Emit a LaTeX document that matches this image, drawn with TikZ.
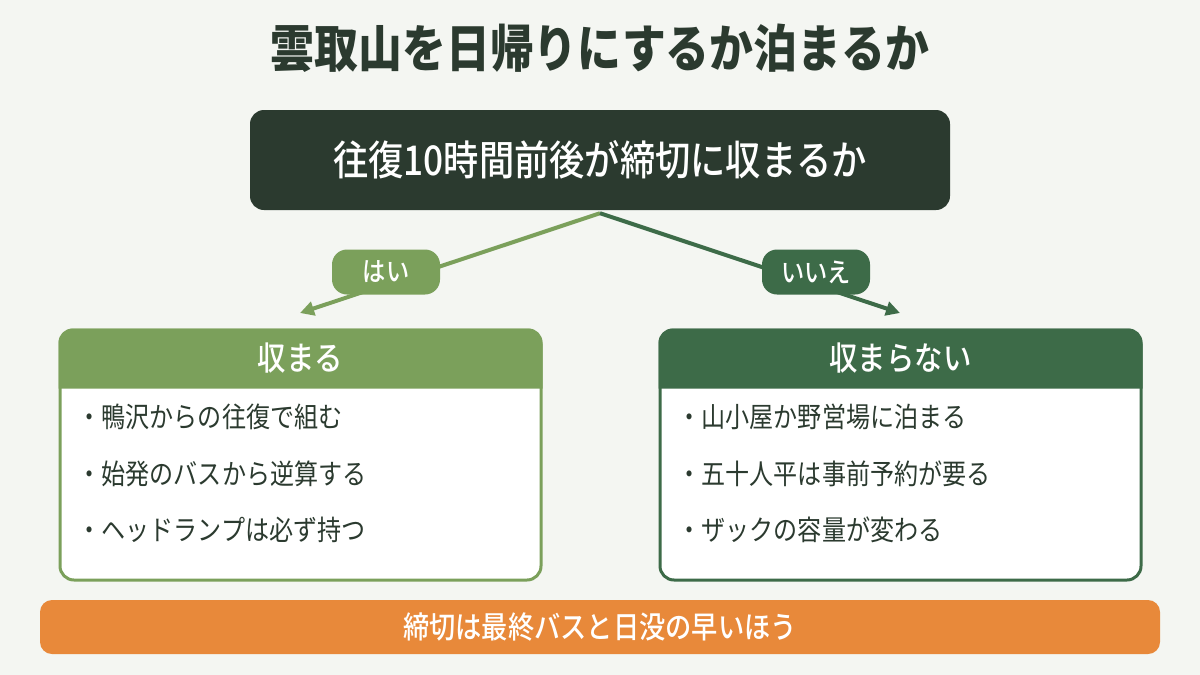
\documentclass[tikz,border=0pt]{standalone}
\usepackage{fontspec}
\setmainfont{Noto Sans CJK JP}[FakeStretch=0.86]
\newfontfamily\medfont{Noto Sans CJK JP Medium}[FakeStretch=0.86]
\usetikzlibrary{arrows.meta}

\definecolor{bgcol}{HTML}{F4F6F2}
\definecolor{darkbox}{HTML}{2B3A2F}
\definecolor{yesgreen}{HTML}{7BA05B}
\definecolor{nogreen}{HTML}{3D6B48}
\definecolor{notebar}{HTML}{E8893A}

\begin{document}
\begin{tikzpicture}
[
	x=1pt, y=-1pt,
	card/.style={draw, line width=3pt, fill=white, rounded corners=14pt, minimum width=481pt, minimum height=250pt, inner sep=0pt},
	pill/.style={rounded corners=15pt, minimum width=108pt, minimum height=45pt, text=white, font=\fontsize{27}{27}\medfont},
	headtxt/.style={text=white, font=\fontsize{33}{33}\medfont},
	item/.style={anchor=west, text=darkbox, font=\fontsize{28}{28}\selectfont},
	branch/.style={line width=4pt, -{Triangle[length=14pt, width=14pt]}}
]

	% background
	\fill[bgcol] (0,0) rectangle (1200,675);
	\useasboundingbox (0,0) rectangle (1200,675);

	% title
	\node[text=darkbox, font=\fontsize{51}{51}\selectfont\bfseries] (title) at (600,48) {雲取山を日帰りにするか泊まるか};

	% question
	\node[fill=darkbox, rounded corners=14pt, minimum width=700pt, minimum height=100pt, text=white, font=\fontsize{41}{41}\medfont] (question) at (600,160) {往復10時間前後が締切に収まるか};

	% branches
	\coordinate (split) at ([yshift=-3pt]question.south);
	\coordinate (yesend) at (300,313);
	\coordinate (noend) at (900,313);
	\draw[branch, yesgreen] (split) -- (yesend);
	\draw[branch, nogreen] (split) -- (noend);
	\node[pill, fill=yesgreen] (yes) at (386,272) {はい};
	\node[pill, fill=nogreen] (no) at (816,272) {いいえ};

	% yes card
	\node[card, draw=yesgreen] (yesbox) at (300.5,455) {};
	\fill[yesgreen] ([yshift=-60pt]yesbox.north west) {[rounded corners=14pt] -- (yesbox.north west) -- (yesbox.north east)} -- ([yshift=-60pt]yesbox.north east) -- cycle;
	\node[headtxt] (yeshead) at ([yshift=-30pt]yesbox.north) {収まる};
	\node[item] (yes1) at (74,417) {・鴨沢からの往復で組む};
	\node[item] (yes2) at (74,474) {・始発のバスから逆算する};
	\node[item] (yes3) at (74,530) {・ヘッドランプは必ず持つ};

	% no card
	\node[card, draw=nogreen] (nobox) at (900.5,455) {};
	\fill[nogreen] ([yshift=-60pt]nobox.north west) {[rounded corners=14pt] -- (nobox.north west) -- (nobox.north east)} -- ([yshift=-60pt]nobox.north east) -- cycle;
	\node[headtxt] (nohead) at ([yshift=-30pt]nobox.north) {収まらない};
	\node[item] (no1) at (674,417) {・山小屋か野営場に泊まる};
	\node[item] (no2) at (674,474) {・五十人平は事前予約が要る};
	\node[item] (no3) at (674,530) {・ザックの容量が変わる};

	% note
	\node[fill=notebar, rounded corners=12pt, minimum width=1120pt, minimum height=54pt, text=white, font=\fontsize{30.5}{30.5}\medfont] (note) at (600,627) {締切は最終バスと日没の早いほう};

\end{tikzpicture}
\end{document}
